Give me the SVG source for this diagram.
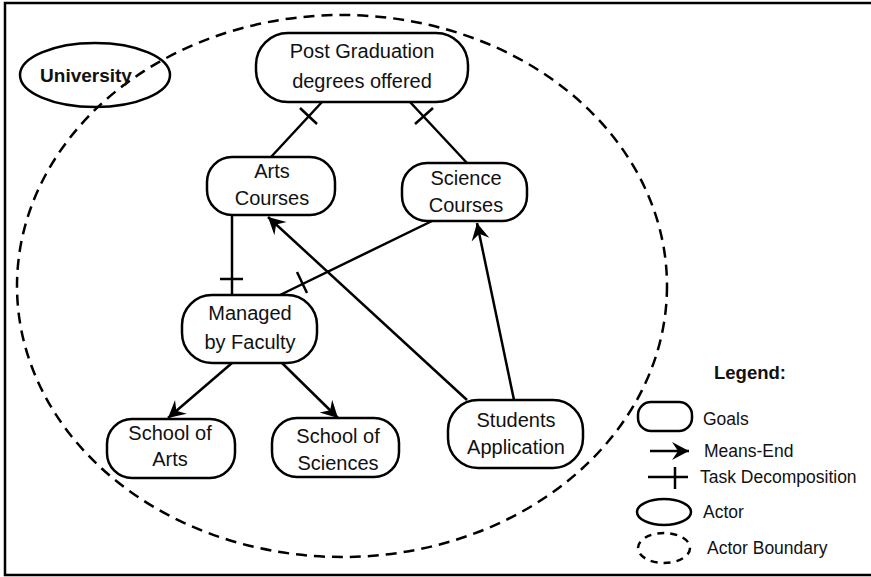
<svg xmlns="http://www.w3.org/2000/svg" width="871" height="577" viewBox="0 0 871 577">
  <style>
    .goal { fill: #fff; stroke: #000; stroke-width: 2.5; }
    .actor { fill: none; stroke: #000; stroke-width: 2.5; }
    .boundary { fill: none; stroke: #000; stroke-width: 2.5; stroke-dasharray: 11 7; }
    .link { fill: none; stroke: #000; stroke-width: 2.5; }
    .lbl { font-family: "Liberation Sans", Arial, sans-serif; font-size: 20px; fill: #111; text-anchor: middle; }
    .leg { font-family: "Liberation Sans", Arial, sans-serif; font-size: 17.5px; fill: #111; }
    .bold { font-weight: bold; }
  </style>
  <defs>
    <marker id="meansEnd" markerUnits="userSpaceOnUse" markerWidth="24" markerHeight="24" viewBox="-20 -12 24 24" refX="0" refY="0" orient="auto">
      <path d="M0,0 L-17,-9 L-11,0 L-17,9 Z" fill="#000"/>
    </marker>
  </defs>

  <rect width="871" height="577" fill="#fff"/>
  <!-- frame -->
  <path d="M873,3 L5,3 L5,575 L873,575" fill="none" stroke="#000" stroke-width="2.5"/>

  <!-- actor boundary -->
  <ellipse id="boundary" class="boundary" cx="342" cy="286" rx="325" ry="271"/>

  <!-- actor -->
  <g id="actor-university">
    <ellipse class="actor" cx="95" cy="75" rx="75" ry="32"/>
    <text class="lbl bold" x="86" y="82" style="font-size:19px">University</text>
  </g>

  <!-- connectors -->
  <g id="connectors">
    <!-- task decompositions -->
    <line class="link" x1="322" y1="102" x2="271" y2="157"/>
    <line class="link" x1="300" y1="108" x2="317" y2="124"/>
    <line class="link" x1="410" y1="102" x2="467" y2="163"/>
    <line class="link" x1="415" y1="124" x2="433" y2="108"/>
    <line class="link" x1="232" y1="215" x2="232" y2="295"/>
    <line class="link" x1="220" y1="279" x2="243" y2="279"/>
    <line class="link" x1="432" y1="221" x2="280" y2="295"/>
    <line class="link" x1="297" y1="272" x2="307" y2="293"/>
    <!-- means-end -->
    <line class="link" x1="467" y1="400" x2="268" y2="217" marker-end="url(#meansEnd)"/>
    <line class="link" x1="514" y1="400" x2="477" y2="223" marker-end="url(#meansEnd)"/>
    <line class="link" x1="232" y1="363" x2="168" y2="418" marker-end="url(#meansEnd)"/>
    <line class="link" x1="282" y1="363" x2="338" y2="418" marker-end="url(#meansEnd)"/>
  </g>

  <!-- goals -->
  <g id="goal-post-graduation">
    <rect class="goal" x="256" y="33" width="212" height="69" rx="32" ry="32"/>
    <text class="lbl" x="362" y="58">Post Graduation</text>
    <text class="lbl" x="362" y="88">degrees offered</text>
  </g>
  <g id="goal-arts-courses">
    <rect class="goal" x="207" y="157" width="128" height="58" rx="25" ry="25"/>
    <text class="lbl" x="272" y="178">Arts</text>
    <text class="lbl" x="272" y="205">Courses</text>
  </g>
  <g id="goal-science-courses">
    <rect class="goal" x="402" y="163" width="125" height="58" rx="25" ry="25"/>
    <text class="lbl" x="466" y="185">Science</text>
    <text class="lbl" x="466" y="212">Courses</text>
  </g>
  <g id="goal-managed-by-faculty">
    <rect class="goal" x="182" y="295" width="135" height="68" rx="30" ry="30"/>
    <text class="lbl" x="250" y="320">Managed</text>
    <text class="lbl" x="250" y="349">by Faculty</text>
  </g>
  <g id="goal-school-of-arts">
    <rect class="goal" x="107" y="419" width="128" height="59" rx="25" ry="25"/>
    <text class="lbl" x="170" y="440">School of</text>
    <text class="lbl" x="170" y="466">Arts</text>
  </g>
  <g id="goal-school-of-sciences">
    <rect class="goal" x="272" y="418" width="127" height="59" rx="25" ry="25"/>
    <text class="lbl" x="338" y="443">School of</text>
    <text class="lbl" x="338" y="470">Sciences</text>
  </g>
  <g id="goal-students-application">
    <rect class="goal" x="448" y="400" width="135" height="68" rx="30" ry="30"/>
    <text class="lbl" x="516" y="427">Students</text>
    <text class="lbl" x="516" y="454">Application</text>
  </g>

  <!-- legend -->
  <g id="legend">
    <text class="leg bold" x="714" y="379" style="font-size:18.5px">Legend:</text>
    <rect class="goal" x="638" y="402" width="54" height="29" rx="13" ry="13"/>
    <text class="leg" x="703" y="425">Goals</text>
    <line class="link" x1="650" y1="451" x2="689" y2="451" marker-end="url(#meansEnd)"/>
    <text class="leg" x="704" y="457">Means-End</text>
    <line class="link" x1="648" y1="477" x2="688" y2="477"/>
    <line class="link" x1="675" y1="467" x2="675" y2="489"/>
    <text class="leg" x="700" y="483">Task Decomposition</text>
    <ellipse class="actor" cx="664" cy="512" rx="27" ry="13"/>
    <text class="leg" x="703" y="518">Actor</text>
    <ellipse class="boundary" cx="664" cy="548" rx="26" ry="15" style="stroke-dasharray:7 6"/>
    <text class="leg" x="707" y="554">Actor Boundary</text>
  </g>
</svg>
